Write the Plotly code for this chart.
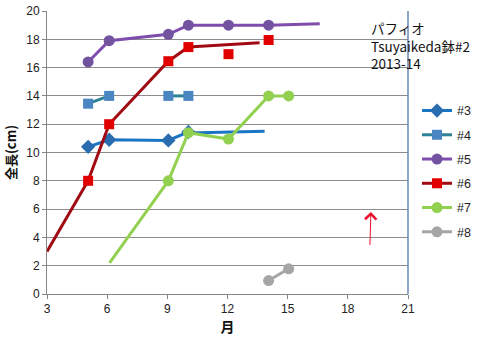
import plotly.graph_objects as go

# ---- data (month, length cm) ----
s3_x = [5.05, 6.1, 9.05, 10.05]
s3_y = [10.4, 10.9, 10.85, 11.45]
s3_ext_x = [10.05, 13.85]
s3_ext_y = [11.38, 11.5]

s4a_x = [5.05, 6.1]
s4a_y = [13.45, 14.0]
s4b_x = [9.05, 10.05]
s4b_y = [14.0, 14.0]

s5_x = [5.05, 6.1, 9.05, 10.05, 12.05, 14.05]
s5_y = [16.4, 17.9, 18.35, 19.0, 19.0, 19.0]
s5_ext_x = [14.05, 16.6]
s5_ext_y = [19.0, 19.1]

s6_x = [5.05, 6.1, 9.05, 10.05]
s6_y = [8.0, 12.0, 16.45, 17.45]
s6_pre_x = [3.0, 5.05]
s6_pre_y = [3.0, 8.0]
s6_ext_x = [10.05, 13.6]
s6_ext_y = [17.45, 17.75]
s6_pts_x = [12.05, 14.05]
s6_pts_y = [16.95, 17.95]

s7_x = [9.05, 10.05, 12.05, 14.05, 15.05]
s7_y = [8.0, 11.4, 10.95, 14.0, 14.0]
s7_pre_x = [6.12, 9.05]
s7_pre_y = [2.2, 8.0]

s8_x = [14.05, 15.05]
s8_y = [0.95, 1.78]

x_ticks = [3, 6, 9, 12, 15, 18, 21]
y_ticks = [0, 2, 4, 6, 8, 10, 12, 14, 16, 18, 20]

note_lines = ["パフィオ", "Tsuyaikeda鉢#2", "2013-14"]

C3_L, C3_M = "#1A75C4", "#2A6CB0"
C4_L, C4_M = "#2E8296", "#4A86C2"
C5_L, C5_M = "#7E4DAE", "#7352A0"
C6_L, C6_M = "#A00A12", "#E00000"
C7 = "#92D050"
C8 = "#A6A6A6"

fig = go.Figure()

def line_only(x, y, color, group):
    fig.add_trace(go.Scatter(x=x, y=y, mode="lines", line=dict(color=color, width=3),
                             showlegend=False, legendgroup=group, hoverinfo="skip"))

def main(x, y, name, lc, mc, symbol, size=10, show=True, group=None):
    fig.add_trace(go.Scatter(x=x, y=y, mode="lines+markers", name=name,
                             line=dict(color=lc, width=3),
                             marker=dict(color=mc, symbol=symbol, size=size),
                             showlegend=show, legendgroup=group or name))

# #3
line_only(s3_ext_x, s3_ext_y, C3_L, "#3")
main(s3_x, s3_y, "#3", C3_L, C3_M, "diamond", 11)
# #4
main(s4a_x, s4a_y, "#4", C4_L, C4_M, "square", 10)
main(s4b_x, s4b_y, "#4", C4_L, C4_M, "square", 10, show=False, group="#4")
# #5
line_only(s5_ext_x, s5_ext_y, C5_L, "#5")
main(s5_x, s5_y, "#5", C5_L, C5_M, "circle", 11)
# #6
line_only(s6_pre_x, s6_pre_y, C6_L, "#6")
line_only(s6_ext_x, s6_ext_y, C6_L, "#6")
main(s6_x, s6_y, "#6", C6_L, C6_M, "square", 10)
fig.add_trace(go.Scatter(x=s6_pts_x, y=s6_pts_y, mode="markers", showlegend=False,
                         legendgroup="#6", marker=dict(color=C6_M, symbol="square", size=10)))
# #7
line_only(s7_pre_x, s7_pre_y, C7, "#7")
main(s7_x, s7_y, "#7", C7, C7, "circle", 11)
# #8
main(s8_x, s8_y, "#8", C8, C8, "circle", 11)

# red arrow annotation
fig.add_annotation(x=19.15, y=5.8, ax=19.1, ay=3.35, xref="x", yref="y", axref="x", ayref="y",
                   text="", showarrow=True, arrowhead=4, arrowsize=2.2, arrowwidth=1,
                   arrowcolor="#E8102A")

fig.add_annotation(x=1.0, y=20.0, xref="paper", yref="y", xanchor="left", yanchor="top",
                   xshift=-39, yshift=-5, align="left", showarrow=False,
                   text="<br>".join(note_lines),
                   font=dict(family="Noto Sans CJK JP", size=13.5, color="#111"))

# right border of plot area
fig.add_shape(type="line", xref="paper", yref="paper", x0=1, x1=1, y0=0, y1=1,
              line=dict(color="#6A87B5", width=1.5))

fig.update_layout(
    width=482, height=341,
    margin=dict(l=47, r=74, t=11, b=47, autoexpand=False),
    paper_bgcolor="white", plot_bgcolor="white",
    font=dict(family="Liberation Sans, Arial", size=12, color="#222"),
    legend=dict(x=1.025, y=0.70, xanchor="left", yanchor="top",
                traceorder="grouped", tracegroupgap=5, itemwidth=30,
                font=dict(family="Liberation Sans", size=12.5, color="#222"),
                bgcolor="rgba(0,0,0,0)"),
    xaxis=dict(range=[3, 21], tickvals=x_ticks, showgrid=False, zeroline=False,
               showline=True, linecolor="#868686", linewidth=1,
               ticks="outside", ticklen=4, tickcolor="#868686",
               title=dict(text="<b>月</b>", font=dict(family="Noto Sans CJK JP", size=14, color="#111"),
                          standoff=6)),
    yaxis=dict(range=[0, 20], tickvals=y_ticks, showgrid=True, gridcolor="#8C8C8C", gridwidth=1,
               zeroline=False, showline=True, linecolor="#868686", linewidth=1,
               ticks="outside", ticklen=4, tickcolor="#868686",
               title=dict(text="<b>全長(cm)</b>", font=dict(family="Noto Sans CJK JP", size=13, color="#111"),
                          standoff=6)),
)

fig.write_html("out.html")
